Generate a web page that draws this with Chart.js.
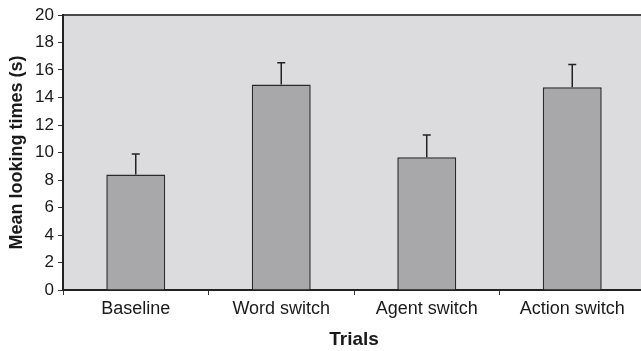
<!DOCTYPE html>
<html><head><meta charset="utf-8">
<script src="https://cdn.jsdelivr.net/npm/chart.js@4"></script>
<style>
html,body{margin:0;padding:0;background:#fff;overflow:hidden;}
#wrap{width:646px;height:351px;position:relative;}
</style></head>
<body><div id="wrap"><canvas id="c"></canvas></div>
<script>
const categories = ["Baseline", "Word switch", "Agent switch", "Action switch"];
const meanValues = [8.4, 14.95, 9.65, 14.75];
const errorValues = [1.5, 1.57, 1.62, 1.65];
const yTicks = [0, 2, 4, 6, 8, 10, 12, 14, 16, 18, 20];

const FONT = "'Liberation Sans', Arial, sans-serif";

const areaPlugin = {
  id: 'area',
  beforeDraw(chart) {
    const {ctx, chartArea: a} = chart;
    ctx.save();
    ctx.fillStyle = '#dcdcde';
    ctx.fillRect(a.left, a.top, a.right - a.left, a.bottom - a.top);
    ctx.strokeStyle = '#4a4a4a';
    ctx.lineWidth = 2;
    ctx.beginPath();
    ctx.moveTo(a.left, a.top);
    ctx.lineTo(a.right, a.top);
    ctx.stroke();
    ctx.restore();
  },
  afterDatasetsDraw(chart) {
    const {ctx} = chart;
    const meta = chart.getDatasetMeta(0);
    const y = chart.scales.y;
    ctx.save();
    ctx.strokeStyle = '#222';
    ctx.lineWidth = 1.5;
    meta.data.forEach((bar, i) => {
      const x = bar.x;
      const y0 = y.getPixelForValue(meanValues[i]);
      const y1 = y.getPixelForValue(meanValues[i] + errorValues[i]);
      ctx.beginPath();
      ctx.moveTo(x, y0);
      ctx.lineTo(x, y1);
      ctx.moveTo(x - 4, y1);
      ctx.lineTo(x + 4, y1);
      ctx.stroke();
    });
    ctx.restore();
  }
};

new Chart(document.getElementById('c'), {
  type: 'bar',
  data: {
    labels: categories,
    datasets: [{
      data: meanValues,
      backgroundColor: '#a8a8ab',
      borderColor: '#2a2a2a',
      borderWidth: 1.5,
      borderSkipped: 'bottom',
      categoryPercentage: 0.405,
      barPercentage: 1.0
    }]
  },
  options: {
    responsive: true,
    maintainAspectRatio: false,
    animation: false,
    layout: {padding: {top: 15, right: 1, left: 0, bottom: 0}},
    plugins: {legend: {display: false}, tooltip: {enabled: false}},
    scales: {
      x: {
        offset: true,
        grid: {offset: true, drawOnChartArea: false, drawTicks: true, tickLength: 5, color: '#333', lineWidth: 1},
        border: {display: true, color: '#222', width: 2},
        ticks: {color: '#1a1a1a', font: {family: FONT, size: 18}, padding: 3, maxRotation: 0},
        title: {display: true, text: 'Trials', color: '#1a1a1a', font: {family: FONT, size: 19, weight: 'bold'}, padding: {top: 4, bottom: 0}},
        afterFit(s) { s.height = 61; }
      },
      y: {
        min: 0, max: 20,
        afterBuildTicks(s) { s.ticks = yTicks.map(v => ({value: v})); },
        grid: {drawOnChartArea: false, drawTicks: true, tickLength: 5, color: '#333', lineWidth: 1},
        border: {display: true, color: '#222', width: 2},
        ticks: {color: '#1a1a1a', font: {family: FONT, size: 17}, padding: 4},
        title: {display: true, text: 'Mean looking times (s)', color: '#1a1a1a', font: {family: FONT, size: 18, weight: 'bold'}, padding: {top: 6, bottom: 0}},
        afterFit(s) { s.width = 63; }
      }
    }
  },
  plugins: [areaPlugin]
});
</script></body></html>
